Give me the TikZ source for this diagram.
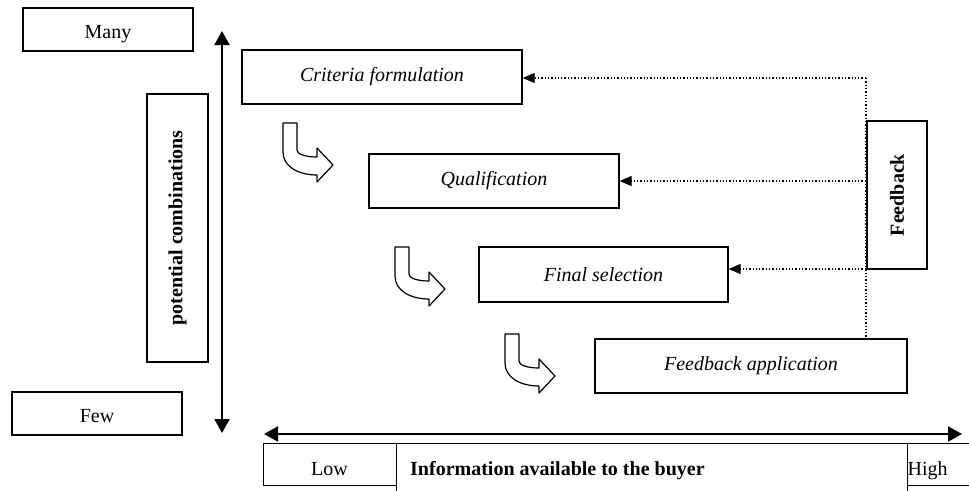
\documentclass[tikz,border=0pt]{standalone}
\usepackage{fontspec}
\setmainfont{Liberation Serif}[
  ItalicFont={Liberation Serif Italic},
  BoldFont={Liberation Serif Bold}]
\usetikzlibrary{arrows.meta}
\begin{document}
\fontsize{20}{24}\selectfont
\begin{tikzpicture}[
  x=1pt, y=-1pt,
  box/.style={draw, line width=1.3pt, fill=white, inner sep=0pt},
  endbox/.style={box, minimum width=170pt, minimum height=43pt,
                 text height=17pt, text depth=0pt},
  stage/.style={box, font=\itshape, minimum height=54pt},
  axis/.style={{Triangle[length=14pt,width=15pt]}-{Triangle[length=14pt,width=15pt]},
               line width=2pt},
  fbline/.style={dotted, line width=1.3pt},
  fbarrow/.style={fbline, -{Triangle[length=12pt,width=10pt]}},
  bendarrow/.pic={
    \draw[line width=1.2pt, fill=white, line join=round]
      (0,0) -- (14,0) -- (14,27) .. controls (14,31) and (22,34) .. (34,34)
      -- (34,25) -- (50,42) -- (34,59) -- (34,52)
      .. controls (16,52) and (0,44) .. (0,29) -- cycle;
  },
]
\useasboundingbox (0,0) rectangle (969,490);
\fill[white] (0,0) rectangle (969,490);

% Truc doc: so to hop
\node[endbox] (many) at (108,29.5) {Many};
\node[endbox] (few) at (97,413.5) {Few};
\node[box, rotate=90, minimum width=268pt, minimum height=61pt, font=\bfseries]
  (combi) at (177.5,228) {potential combinations};
\coordinate (vtop) at (222,31);
\coordinate (vbot) at (222,433);
\draw[axis] (vtop) -- (vbot);

% Cac buoc
\node[stage, minimum width=280pt] (crit) at (382,77) {Criteria formulation};
\node[stage, minimum width=250pt] (qual) at (494,181) {Qualification};
\node[stage, minimum width=249pt, minimum height=55pt] (final) at (603.5,274.5)
  {Final selection};
\node[stage, minimum width=312pt] (apply) at (751,366) {Feedback application};
\pic at (283,123) {bendarrow};
\pic at (395,247) {bendarrow};
\pic at (505,334) {bendarrow};

% Phan hoi
\node[box, rotate=90, minimum width=148pt, minimum height=60pt, font=\bfseries]
  (fb) at (897,195) {Feedback};
\coordinate (fbtop) at (866,78);
\coordinate (fbsel) at (866,269);
\draw[fbline] (fbtop) -- (fbtop |- apply.north);
\draw[fbarrow] (fbtop) -- (fbtop -| crit.east);
\draw[fbarrow] (fbtop |- qual.east) -- (qual.east);
\draw[fbarrow] (fbsel) -- (fbsel -| final.east);

% Truc ngang: thong tin
\coordinate (hleft) at (264,434);
\coordinate (hright) at (962,434);
\draw[axis] (hleft) -- (hright);
\node[box, anchor=north west, minimum width=133pt, minimum height=42pt] (low) at (263,443) {};
\node[box, anchor=north west, minimum width=511pt, minimum height=60pt] (info) at (396,443) {};
\node[box, anchor=north west, minimum width=80pt, minimum height=42pt] (high) at (907,443) {};
\node[anchor=base, inner sep=0pt] (lowtxt) at (329.5,475) {Low};
\node[anchor=base west, inner sep=0pt, font=\bfseries] (infotxt) at (410,475)
  {Information available to the buyer};
\node[anchor=base west, inner sep=0pt] (hightxt) at (907.5,475) {High};
\end{tikzpicture}
\end{document}
